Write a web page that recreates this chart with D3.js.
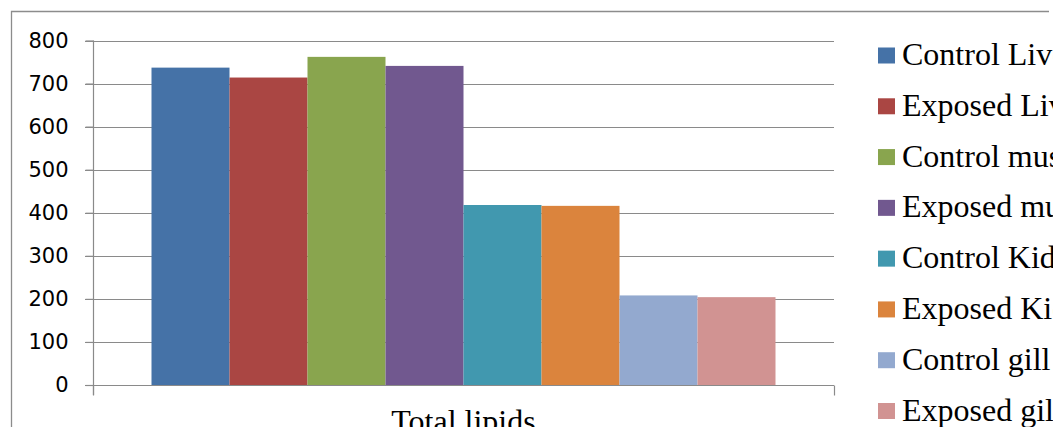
<!DOCTYPE html>
<html>
<head>
<meta charset="utf-8">
<script src="https://cdn.jsdelivr.net/npm/d3@7"></script>
<style>
  html, body { margin: 0; padding: 0; background: #fff; overflow: hidden; }
  svg { display: block; }
</style>
</head>
<body>
<svg id="chart" width="1053" height="427"></svg>
<script>
// Total lipid content by tissue, control vs exposed
const categories = ["Total lipids"];
const seriesNames = [
  "Control Liver", "Exposed Liver", "Control muscle", "Exposed muscle",
  "Control Kidney", "Exposed Kidney", "Control gill", "Exposed gill"
];
const seriesValues = [737, 714, 762, 741, 418, 416, 208, 204];
const seriesColors = [
  "#4572A7", "#AA4643", "#89A54E", "#71588F",
  "#4198AF", "#DB843D", "#93A9CF", "#D19392"
];
const yTicks = [0, 100, 200, 300, 400, 500, 600, 700, 800];

const svg = d3.select("#chart");
const gridColor = "#8a8a8a";

// plot area
const plotLeft = 93, plotRight = 834, plotTop = 40.5, plotBottom = 385;

const y = d3.scaleLinear().domain([0, 800]).range([plotBottom, plotTop]);

const x0 = d3.scaleBand()
  .domain(categories)
  .range([plotLeft, plotRight])
  .paddingInner(0)
  .paddingOuter(0.09375);

const x1 = d3.scaleBand()
  .domain(seriesNames)
  .range([0, x0.bandwidth()])
  .padding(0);

// chart frame
svg.append("path")
  .attr("d", "M11.5,440V11.5H1049")
  .attr("fill", "none")
  .attr("stroke", "#8c8c8c")
  .attr("stroke-width", 1.3);

// horizontal gridlines with their tick stubs
svg.append("g")
  .selectAll("line")
  .data(yTicks.filter(d => d !== 0))
  .join("line")
  .attr("x1", plotLeft - 8)
  .attr("x2", plotRight)
  .attr("y1", d => Math.round(y(d)) + 0.5)
  .attr("y2", d => Math.round(y(d)) + 0.5)
  .attr("stroke", gridColor)
  .attr("stroke-width", 1.2);

// bars
const groups = svg.append("g")
  .selectAll("g")
  .data(categories)
  .join("g")
  .attr("transform", d => `translate(${x0(d)},0)`);

groups.selectAll("rect")
  .data(seriesNames.map((name, i) => ({ name, value: seriesValues[i], color: seriesColors[i] })))
  .join("rect")
  .attr("x", d => x1(d.name))
  .attr("width", x1.bandwidth())
  .attr("y", d => y(d.value))
  .attr("height", d => y(0) - y(d.value))
  .attr("fill", d => d.color);

// y axis
const yAxis = d3.axisLeft(y)
  .tickValues(yTicks)
  .tickSize(8)
  .tickPadding(17)
  .tickFormat(d3.format("d"));

const yg = svg.append("g")
  .attr("transform", `translate(${plotLeft + 0.5},0)`)
  .call(yAxis);
yg.select(".domain")
  .attr("d", `M0,${plotTop}V${plotBottom + 10}`)
  .attr("stroke", gridColor)
  .attr("stroke-width", 1.2);
yg.selectAll(".tick line").attr("stroke", gridColor).attr("stroke-width", 1.2);
yg.selectAll(".tick text")
  .attr("font-family", "'DejaVu Sans', sans-serif")
  .attr("font-size", 21)
  .attr("fill", "#000");

// x axis baseline with boundary ticks
const xAxis = d3.axisBottom(x0).tickSize(0).tickPadding(0).tickFormat(() => "");
const xg = svg.append("g")
  .attr("transform", `translate(0,${Math.round(plotBottom) + 0.5})`)
  .call(xAxis);
xg.select(".domain")
  .attr("d", `M${plotLeft - 8},0H${plotRight}`)
  .attr("stroke", gridColor)
  .attr("stroke-width", 1.2);
xg.selectAll(".tick").remove();
xg.selectAll("line.edge")
  .data(x0.range())
  .join("line")
  .attr("class", "edge")
  .attr("x1", d => d + 0.5).attr("x2", d => d + 0.5)
  .attr("y1", 0).attr("y2", 10)
  .attr("stroke", gridColor)
  .attr("stroke-width", 1.2);

// category label
xg.selectAll("text.cat")
  .data(categories)
  .join("text")
  .attr("class", "cat")
  .attr("x", d => x0(d) + x0.bandwidth() / 2)
  .attr("y", 432 - (Math.round(plotBottom) + 0.5))
  .attr("text-anchor", "middle")
  .attr("font-family", "'Liberation Serif', 'Times New Roman', serif")
  .attr("font-size", 32)
  .attr("fill", "#000")
  .text(d => d);

// legend
const legend = svg.append("g").attr("transform", "translate(878,0)");
const rowY = d3.scalePoint().domain(seriesNames).range([55.5, 411]);
const items = legend.selectAll("g")
  .data(seriesNames)
  .join("g")
  .attr("transform", d => `translate(0,${rowY(d)})`);
items.append("rect")
  .attr("x", 0).attr("y", -8)
  .attr("width", 17).attr("height", 16)
  .attr("fill", (d, i) => seriesColors[i]);
items.append("text")
  .attr("x", 24)
  .attr("y", 9.5)
  .attr("font-family", "'Liberation Serif', 'Times New Roman', serif")
  .attr("font-size", 32)
  .attr("fill", "#000")
  .text(d => d);
</script>
</body>
</html>
